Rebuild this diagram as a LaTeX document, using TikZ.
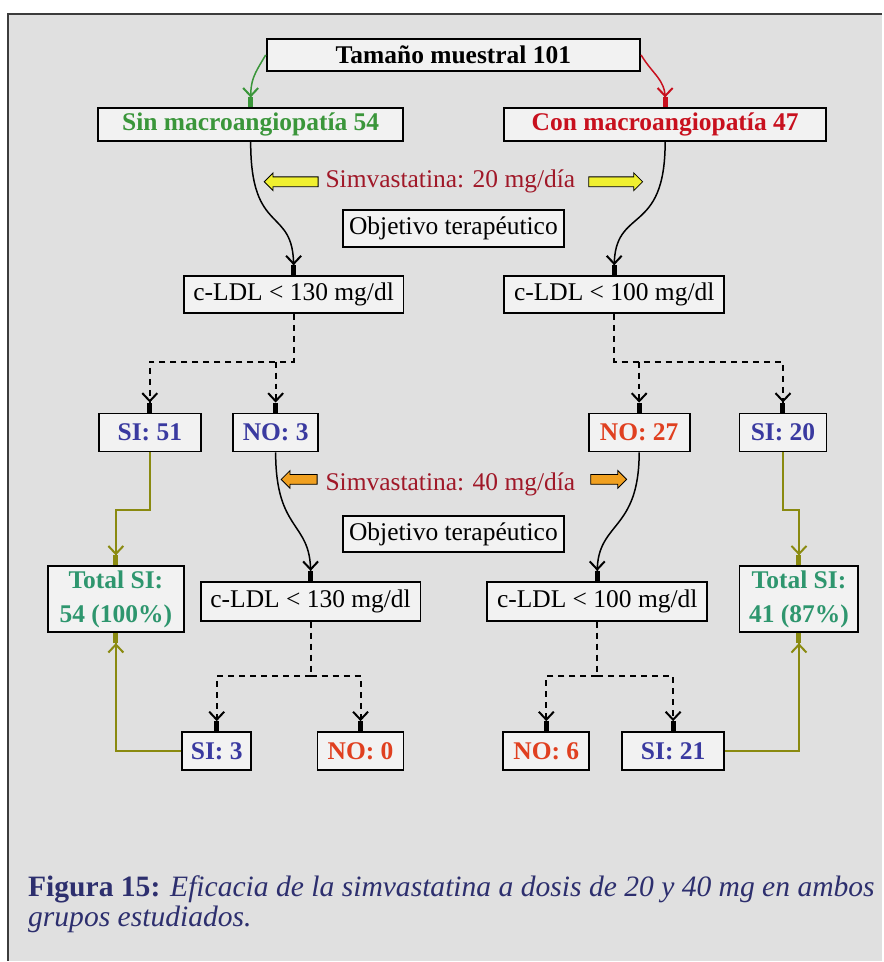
\documentclass[tikz,border=0pt]{standalone}
\usepackage{fontspec}
\setmainfont{Liberation Serif}
\usetikzlibrary{arrows.meta,shapes.arrows}

\definecolor{fondo}{RGB}{224,224,224}
\definecolor{marco}{RGB}{60,60,60}
\definecolor{verde}{RGB}{58,150,58}
\definecolor{rojo}{RGB}{200,16,30}
\definecolor{granate}{RGB}{160,24,40}
\definecolor{azul}{RGB}{58,58,160}
\definecolor{naranja}{RGB}{224,64,32}
\definecolor{turquesa}{RGB}{46,150,110}
\definecolor{oliva}{RGB}{138,138,16}
\definecolor{amarillo}{RGB}{240,240,48}
\definecolor{ambar}{RGB}{240,160,32}
\definecolor{marino}{RGB}{45,47,110}

\begin{document}
\begin{tikzpicture}[x=1pt, y=-1pt,
	punta/.tip={Straight Barb[length=8pt,width=15pt,line width=2pt] Rectangle[length=10pt,width=5pt]},
	caja/.style={draw, line width=1.8pt, fill=white, fill opacity=0.6, text opacity=1,
		inner sep=0pt, minimum height=37, font=\fontsize{25.5}{28}\selectfont},
	flecha/.style={-punta, line width=1.5pt},
	discont/.style={flecha, line width=2pt, dash pattern=on 6pt off 5pt},
	olivo/.style={flecha, draw=oliva, -{punta[color=oliva]}},
	dosis/.style={font=\fontsize{25.5}{28}\selectfont, text=granate},
	bloque/.style={single arrow, draw, line width=0.8pt, inner xsep=0pt, inner ysep=4.5pt,
		minimum height=54, single arrow head extend=4pt}]
	% fondo y marco
	\fill[fondo] (8,14) rectangle (883,962);
	\draw[marco, line width=2.5pt] (8,962) -- (8,14) -- (883,14);
	\useasboundingbox (0,0) rectangle (883,962);

	% primer nivel
	\node (tam)[caja, minimum width=374, minimum height=32] at(454,55) {\bfseries Tamaño muestral 101};
	\node (sin)[caja, minimum width=305, minimum height=33, text=verde] at(251,125) {\bfseries Sin macroangiopatía 54};
	\node (con)[caja, minimum width=322, minimum height=33, text=rojo] at(666,125) {\bfseries Con macroangiopatía 47};
	\draw [flecha, draw=verde, -{punta[color=verde]}](tam.west) .. controls +(-12,20) and +(0,-28) .. (sin.north);
	\draw [flecha, draw=rojo, -{punta[color=rojo]}](tam.east) .. controls +(12,20) and +(0,-28) .. (con.north);

	% simvastatina 20 mg
	\node (d20)[dosis] at(451,182) {Simvastatina: 20 mg/día};
	\node (yl)[bloque, fill=amarillo, shape border rotate=180] at(294,182) {};
	\node (yr)[bloque, fill=amarillo] at(614,182) {};
	\node (obj1)[caja, minimum width=221] at(454,229) {Objetivo terapéutico};
	\node (ldlA1)[caja, minimum width=220] at(294,295) {c-LDL < 130 mg/dl};
	\node (ldlB1)[caja, minimum width=220] at(615,295) {c-LDL < 100 mg/dl};
	\draw [flecha](sin.south) .. controls +(0,95) and +(0,-70) .. (ldlA1.north);
	\draw [flecha](con.south) .. controls +(0,95) and +(0,-70) .. (ldlB1.north);

	% respuesta a 20 mg
	\node (si51)[caja, minimum width=102, minimum height=38, text=azul] at(150,433) {\bfseries SI: 51};
	\node (no3)[caja, minimum width=85, minimum height=38, text=azul] at(276,433) {\bfseries NO: 3};
	\node (no27)[caja, minimum width=101, minimum height=38, text=naranja] at(640,433) {\bfseries NO: 27};
	\node (si20)[caja, minimum width=87, minimum height=38, text=azul] at(784,433) {\bfseries SI: 20};
	\coordinate (jA1) at(294,362);
	\coordinate (jB1) at(615,362);
	\draw [discont](ldlA1.south) -- (jA1) -| (si51.north);
	\draw [discont](no3.north |- jA1) -- (no3.north);
	\draw [discont](ldlB1.south) -- (jB1) -| (si20.north);
	\draw [discont](no27.north |- jB1) -- (no27.north);

	% simvastatina 40 mg
	\node (d40)[dosis] at(451,485) {Simvastatina: 40 mg/día};
	\node (ol)[bloque, fill=ambar, minimum height=36, shape border rotate=180] at(302,480) {};
	\node (or)[bloque, fill=ambar, minimum height=36] at(607,480) {};
	\node (obj2)[caja, minimum width=221, minimum height=36] at(454,535) {Objetivo terapéutico};
	\node (ldlA2)[caja, minimum width=220, minimum height=39] at(311,602) {c-LDL < 130 mg/dl};
	\node (ldlB2)[caja, minimum width=220, minimum height=39] at(598,602) {c-LDL < 100 mg/dl};
	\draw [flecha](no3.south) .. controls +(0,80) and +(0,-60) .. (ldlA2.north);
	\draw [flecha](no27.south) .. controls +(0,80) and +(0,-60) .. (ldlB2.north);

	% respuesta a 40 mg
	\node (si3)[caja, minimum width=69, minimum height=38, text=azul] at(217,752) {\bfseries SI: 3};
	\node (no0)[caja, minimum width=86, minimum height=38, text=naranja] at(361,752) {\bfseries NO: 0};
	\node (no6)[caja, minimum width=86, minimum height=38, text=naranja] at(547,752) {\bfseries NO: 6};
	\node (si21)[caja, minimum width=102, minimum height=38, text=azul] at(674,752) {\bfseries SI: 21};
	\coordinate (jA2) at(311,677);
	\coordinate (jB2) at(598,677);
	\draw [dash pattern=on 6pt off 5pt, line width=2pt](ldlA2.south) -- (jA2);
	\draw [discont](jA2) -| (si3.north);
	\draw [discont](jA2) -| (no0.north);
	\draw [dash pattern=on 6pt off 5pt, line width=2pt](ldlB2.south) -- (jB2);
	\draw [discont](jB2) -| (no6.north);
	\draw [discont](jB2) -| (si21.north);

	% totales
	\node (totL)[caja, minimum width=136, minimum height=66, text=turquesa, align=center,
		font=\fontsize{25.5}{34}\selectfont\bfseries] at(116,600) {Total SI:\\54 (100\%)};
	\node (totR)[caja, minimum width=119, minimum height=66, text=turquesa, align=center,
		font=\fontsize{25.5}{34}\selectfont\bfseries] at(800,600) {Total SI:\\41 (87\%)};
	\draw [olivo](si51.south) -- ++(0,58) -| (totL.north);
	\draw [olivo](si20.south) -- ++(0,58) -| (totR.north);
	\draw [olivo](si3.west) -| (totL.south);
	\draw [olivo](si21.east) -| (totR.south);

	% pie de figura
	\node (pie1)[anchor=base west, text=marino, font=\fontsize{29.6}{32}\selectfont, inner sep=0pt] at(28,898)
		{\textbf{Figura 15:} \textit{Eficacia de la simvastatina a dosis de 20 y 40 mg en ambos}};
	\node (pie2)[anchor=base west, text=marino, font=\fontsize{29.6}{32}\selectfont\itshape, inner sep=0pt] at(28,928)
		{grupos estudiados.};
\end{tikzpicture}
\end{document}
